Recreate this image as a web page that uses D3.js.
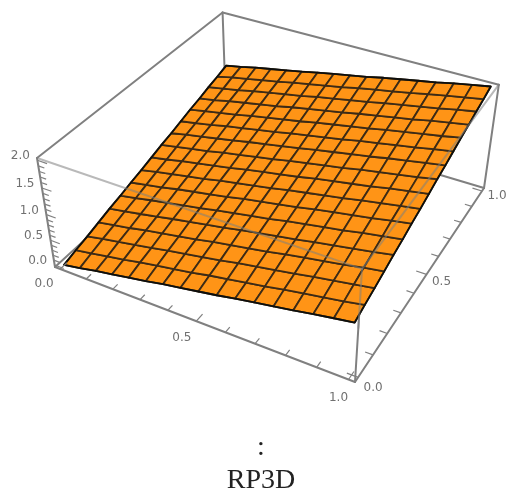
<!DOCTYPE html>
<html>
<head>
<meta charset="utf-8">
<style>
  html, body { margin: 0; background: #fff; }
  svg { display: block; }
</style>
<script src="https://cdn.jsdelivr.net/npm/d3@7"></script>
</head>
<body>
<svg id="chart" width="506" height="494"></svg>
<script>
const xMesh = [0, 0.0625, 0.125, 0.1875, 0.25, 0.3125, 0.375, 0.4375, 0.5, 0.5625, 0.625, 0.6875, 0.75, 0.8125, 0.875, 0.9375, 1];
const yMesh = [0, 0.0625, 0.125, 0.1875, 0.25, 0.3125, 0.375, 0.4375, 0.5, 0.5625, 0.625, 0.6875, 0.75, 0.8125, 0.875, 0.9375, 1];
const surfaceZ = [
  [-0.03, 0.03, 0.10, 0.16, 0.22, 0.28, 0.35, 0.41, 0.47, 0.53, 0.60, 0.66, 0.72, 0.78, 0.85, 0.91, 0.97],
  [0.04, 0.10, 0.16, 0.22, 0.29, 0.35, 0.41, 0.47, 0.54, 0.60, 0.66, 0.72, 0.79, 0.85, 0.91, 0.97, 1.04],
  [0.10, 0.17, 0.23, 0.29, 0.35, 0.42, 0.48, 0.54, 0.60, 0.67, 0.73, 0.79, 0.85, 0.92, 0.98, 1.04, 1.10],
  [0.17, 0.23, 0.29, 0.36, 0.42, 0.48, 0.54, 0.61, 0.67, 0.73, 0.79, 0.86, 0.92, 0.98, 1.04, 1.11, 1.17],
  [0.24, 0.30, 0.36, 0.42, 0.49, 0.55, 0.61, 0.67, 0.74, 0.80, 0.86, 0.92, 0.99, 1.05, 1.11, 1.17, 1.24],
  [0.30, 0.36, 0.43, 0.49, 0.55, 0.61, 0.68, 0.74, 0.80, 0.86, 0.93, 0.99, 1.05, 1.11, 1.18, 1.24, 1.30],
  [0.37, 0.43, 0.49, 0.56, 0.62, 0.68, 0.74, 0.81, 0.87, 0.93, 0.99, 1.06, 1.12, 1.18, 1.24, 1.31, 1.37],
  [0.43, 0.50, 0.56, 0.62, 0.68, 0.75, 0.81, 0.87, 0.93, 1.00, 1.06, 1.12, 1.18, 1.25, 1.31, 1.37, 1.43],
  [0.50, 0.56, 0.63, 0.69, 0.75, 0.81, 0.88, 0.94, 1.00, 1.06, 1.13, 1.19, 1.25, 1.31, 1.38, 1.44, 1.50],
  [0.57, 0.63, 0.69, 0.75, 0.82, 0.88, 0.94, 1.00, 1.07, 1.13, 1.19, 1.25, 1.32, 1.38, 1.44, 1.50, 1.57],
  [0.63, 0.70, 0.76, 0.82, 0.88, 0.95, 1.01, 1.07, 1.13, 1.20, 1.26, 1.32, 1.38, 1.45, 1.51, 1.57, 1.63],
  [0.70, 0.76, 0.82, 0.89, 0.95, 1.01, 1.07, 1.14, 1.20, 1.26, 1.32, 1.39, 1.45, 1.51, 1.57, 1.64, 1.70],
  [0.77, 0.83, 0.89, 0.95, 1.02, 1.08, 1.14, 1.20, 1.27, 1.33, 1.39, 1.45, 1.52, 1.58, 1.64, 1.70, 1.77],
  [0.83, 0.89, 0.96, 1.02, 1.08, 1.14, 1.21, 1.27, 1.33, 1.39, 1.46, 1.52, 1.58, 1.64, 1.71, 1.77, 1.83],
  [0.90, 0.96, 1.02, 1.09, 1.15, 1.21, 1.27, 1.34, 1.40, 1.46, 1.52, 1.59, 1.65, 1.71, 1.77, 1.84, 1.90],
  [0.96, 1.03, 1.09, 1.15, 1.21, 1.28, 1.34, 1.40, 1.46, 1.53, 1.59, 1.65, 1.71, 1.78, 1.84, 1.90, 1.96],
  [1.03, 1.09, 1.16, 1.22, 1.28, 1.34, 1.41, 1.47, 1.53, 1.59, 1.66, 1.72, 1.78, 1.84, 1.91, 1.97, 2.03]
];
const xTicks = [0, 0.1, 0.2, 0.3, 0.4, 0.5, 0.6, 0.7, 0.8, 0.9, 1];
const yTicks = [0, 0.1, 0.2, 0.3, 0.4, 0.5, 0.6, 0.7, 0.8, 0.9, 1];
const zTicks = [0, 0.1, 0.2, 0.3, 0.4, 0.5, 0.6, 0.7, 0.8, 0.9, 1, 1.1, 1.2, 1.3, 1.4, 1.5, 1.6, 1.7, 1.8, 1.9, 2];
const xLabels = [0, 0.5, 1];
const yLabels = [0, 0.5, 1];
const zLabels = [0, 0.5, 1, 1.5, 2];
const titleLines = [":", "RP3D"];

// camera: columns are the box's x, y, z directions and its origin, in homogeneous pixels
const camera = [
  [261.12, 220.17, -20.76, 55],
  [73.16, -131.85, -120.78, 267],
  [-0.10953, 0.21755, -0.07455, 1]
];

const svg = d3.select("#chart");

svg.append("defs").append("filter")
  .attr("id", "soft")
  .attr("x", "-5%").attr("y", "-5%").attr("width", "110%").attr("height", "110%")
  .append("feGaussianBlur")
  .attr("stdDeviation", 0.6);

const g = svg.append("g").attr("filter", "url(#soft)");

// Mathematica leaves 2% padding round the plot range
const xScale = d3.scaleLinear().domain([-0.02, 1.02]).range([0, 1]);
const yScale = d3.scaleLinear().domain([-0.02, 1.02]).range([0, 1]);
const zScale = d3.scaleLinear().domain([-0.04, 2.04]).range([0, 1]);

const toPixel = (u, v, t) => {
  const [px, py, pw] = camera.map(r => r[0] * u + r[1] * v + r[2] * t + r[3]);
  return [px / pw, py / pw];
};
const project = (x, y, z) => toPixel(xScale(x), yScale(y), zScale(z));

const line = d3.line();
const boxColor = "#808080";

const drawEdges = (edges, opacity) => {
  g.append("g")
    .selectAll("path")
    .data(edges)
    .join("path")
    .attr("d", d => line(d.map(c => toPixel(...c))))
    .attr("fill", "none")
    .attr("stroke", boxColor)
    .attr("stroke-width", 2)
    .attr("stroke-linecap", "round")
    .attr("stroke-opacity", opacity);
};

// edges behind the surface
drawEdges([
  [[0, 0, 0], [0, 1, 0]],
  [[0, 1, 0], [1, 1, 0]],
  [[0, 1, 0], [0, 1, 1]],
  [[0, 0, 1], [0, 1, 1]],
  [[0, 1, 1], [1, 1, 1]]
], 1);

// edges in front of or under the surface, but outside it
drawEdges([
  [[0, 0, 0], [1, 0, 0]],
  [[1, 0, 0], [1, 1, 0]],
  [[0, 0, 0], [0, 0, 1]],
  [[1, 1, 0], [1, 1, 1]],
  [[1, 0, 0], [1, 0, 1]]
], 1);

const cells = [];
d3.range(xMesh.length - 1).forEach(i => {
  d3.range(yMesh.length - 1).forEach(j => {
    cells.push([
      project(xMesh[i], yMesh[j], surfaceZ[j][i]),
      project(xMesh[i + 1], yMesh[j], surfaceZ[j][i + 1]),
      project(xMesh[i + 1], yMesh[j + 1], surfaceZ[j + 1][i + 1]),
      project(xMesh[i], yMesh[j + 1], surfaceZ[j + 1][i])
    ]);
  });
});

g.append("g")
  .selectAll("path")
  .data(cells)
  .join("path")
  .attr("d", d => line(d) + "Z")
  .attr("fill", "#ff9412")
  .attr("stroke", "#3d2c14")
  .attr("stroke-width", 1.8)
  .attr("stroke-linejoin", "round");

const last = xMesh.length - 1;
const rim = [
  ...xMesh.map((x, i) => project(x, yMesh[0], surfaceZ[0][i])),
  ...yMesh.map((y, j) => project(xMesh[last], y, surfaceZ[j][last])),
  ...xMesh.map((x, i) => project(x, yMesh[last], surfaceZ[last][i])).reverse(),
  ...yMesh.map((y, j) => project(xMesh[0], y, surfaceZ[j][0])).reverse()
];
g.append("path")
  .attr("d", line(rim) + "Z")
  .attr("fill", "none")
  .attr("stroke", "#111")
  .attr("stroke-width", 1.8)
  .attr("stroke-linejoin", "round");

// top front edges run over the surface, and stay faint there
drawEdges([
  [[0, 0, 1], [1, 0, 1]],
  [[1, 0, 1], [1, 1, 1]],
  [[1, 0, 0.5], [1, 0, 1]]
], 0.55);

// tick marks point into the box floor or wall
const isMajor = v => Math.abs(v * 2 - Math.round(v * 2)) < 1e-6;
const tickMarks = [
  ...xTicks.map(v => [project(v, -0.02, -0.04), project(v, isMajor(v) ? 0.015 : 0.005, -0.04)]),
  ...yTicks.map(v => [project(1.02, v, -0.04), project(isMajor(v) ? 0.985 : 0.995, v, -0.04)]),
  ...zTicks.map(v => [project(-0.02, -0.02, v), project(isMajor(v) ? 0.015 : 0.002, -0.02, v)])
];
g.append("g")
  .selectAll("path")
  .data(tickMarks)
  .join("path")
  .attr("d", d => line(d))
  .attr("stroke", boxColor)
  .attr("stroke-width", 1.2);

// label offsets widen toward the near corner of the box
const labelData = [
  ...xLabels.map(v => ({ p: project(v, -0.02, -0.04), dx: -16 + 6 * v * v, dy: 18 + 3 * v, v })),
  ...yLabels.map(v => ({ p: project(1.02, v, -0.04), dx: 15, dy: 14 - 6 * v, v })),
  ...zLabels.map(v => ({ p: project(-0.02, -0.02, v), dx: -17, dy: -1, v }))
];
g.append("g")
  .selectAll("text")
  .data(labelData)
  .join("text")
  .attr("x", d => d.p[0] + d.dx)
  .attr("y", d => d.p[1] + d.dy)
  .attr("text-anchor", "middle")
  .attr("font-family", "DejaVu Sans")
  .attr("font-size", 12)
  .attr("fill", "#707070")
  .text(d => d3.format(".1f")(d.v));

g.append("g")
  .selectAll("text")
  .data(titleLines)
  .join("text")
  .attr("x", 261)
  .attr("y", (d, i) => 455 + i * 33)
  .attr("text-anchor", "middle")
  .attr("font-family", "Liberation Serif")
  .attr("font-size", 28)
  .attr("fill", "#222")
  .text(d => d);
</script>
</body>
</html>
